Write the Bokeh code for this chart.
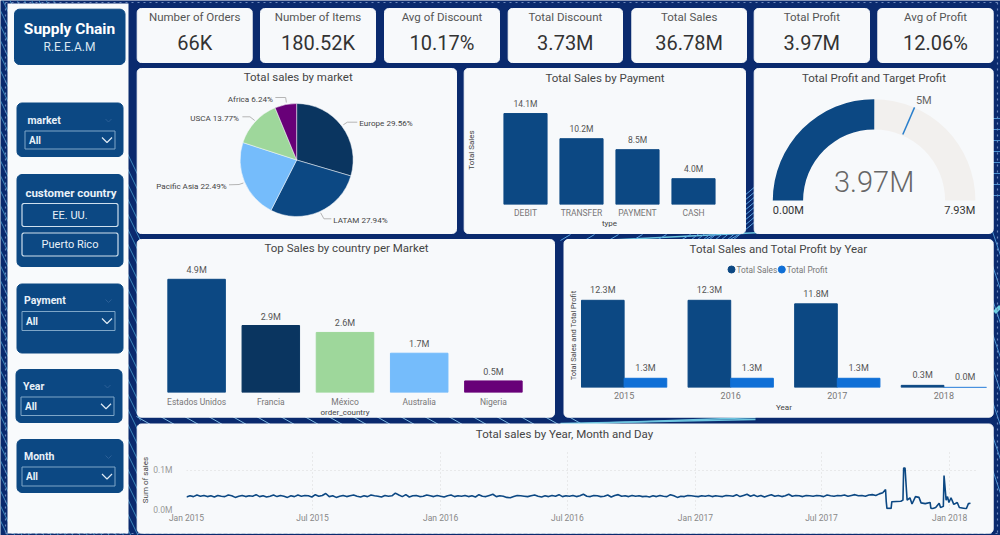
import math
import numpy as np
import pandas as pd
from bokeh.embed import file_html
from bokeh.resources import INLINE
from bokeh.layouts import column
from bokeh.plotting import figure
from bokeh.core.properties import value
from bokeh.models import (ColumnDataSource, Range1d, FactorRange, FixedTicker, DatetimeTickFormatter)
from bokeh.transform import dodge

# ---------- data ----------
kpi_titles = ["Number of Orders", "Number of Items", "Avg of Discount", "Total Discount", "Total Sales", "Total Profit", "Avg of Profit"]
kpi_values = ["66K", "180.52K", "10.17%", "3.73M", "36.78M", "3.97M", "12.06%"]

market_names = ["Europe", "LATAM", "Pacific Asia", "USCA", "Africa"]
market_share = [29.56, 27.94, 22.49, 13.77, 6.24]

pay_types = ["DEBIT", "TRANSFER", "PAYMENT", "CASH"]
pay_sales = [14.1, 10.2, 8.5, 4.0]

gauge_value = 3.97
gauge_target = 5.0
gauge_max = 7.93

countries = ["Estados Unidos", "Francia", "México", "Australia", "Nigeria"]
country_sales = [4.9, 2.9, 2.6, 1.7, 0.5]

years = ["2015", "2016", "2017", "2018"]
year_sales = [12.3, 12.3, 11.8, 0.3]
year_profit = [1.3, 1.3, 1.3, 0.02]

# daily sales (thousands), read every 5 days from Jan 2015 to Sep 2017
ts_body_k = [
    32, 35, 33, 37, 34, 36, 33, 35, 32, 36, 34, 33, 37, 35, 31, 34, 36, 33, 35, 34,
    38, 33, 35, 32, 34, 37, 33, 36, 34, 31, 35, 33, 37, 34, 36, 35, 32, 38, 34, 36,
    41, 33, 35, 31, 34, 36, 33, 35, 37, 34, 32, 35, 33, 37, 35, 34, 32, 36, 34, 35,
    42, 37, 33, 38, 32, 35, 36, 33, 34, 37, 35, 33, 36, 34, 32, 35, 37, 33, 35, 34,
    36, 33, 35, 32, 38, 34, 33, 36, 39, 33, 35, 34, 31, 30, 33, 36, 35, 34, 33, 35,
    37, 34, 32, 35, 33, 36, 34, 38, 33, 35, 34, 36, 33, 35, 39, 34, 33, 36, 35, 33,
    34, 37, 32, 36, 38, 34, 35, 33, 36, 34, 35, 33, 34, 32, 35, 33, 36, 34, 33, 38,
    35, 31, 34, 33, 36, 35, 34, 33, 35, 34, 36, 33, 35, 34, 33, 36, 35, 34, 38, 33,
    36, 39, 34, 37, 33, 36, 32, 35, 38, 34, 36, 33, 35, 39, 34, 36, 35, 33, 36, 35,
    34, 36, 35, 33, 37, 35, 34, 36, 35, 37, 34, 36, 38, 35, 36, 34, 37, 38, 36, 40, 43,
]
# the end of the series, read day by day from the right side of the line
ts_tail_dates = ["2017-10-01", "2017-10-02", "2017-10-03", "2017-10-09", "2017-10-10", "2017-10-23", "2017-10-26",
                 "2017-10-27", "2017-10-29", "2017-10-31", "2017-11-01", "2017-11-05", "2017-11-08", "2017-11-13",
                 "2017-11-18", "2017-11-21", "2017-11-27", "2017-12-04", "2017-12-05", "2017-12-07", "2017-12-12",
                 "2017-12-17", "2017-12-19", "2017-12-23", "2017-12-24", "2017-12-27", "2017-12-29", "2017-12-31",
                 "2018-01-03", "2018-01-07", "2018-01-12", "2018-01-15", "2018-01-25", "2018-01-28", "2018-01-31"]
ts_tail_k = [51, 20, 3, 3, 20, 21, 24, 106, 106, 50, 24, 30, 14, 33, 31, 17, 15, 18, 4, 2, 5, 16, 5, 8, 87, 24, 33, 18,
             30, 13, 18, 5, 2, 15, 16]
ts_tick_dates = ["2015-01-01", "2015-07-01", "2016-01-01", "2016-07-01", "2017-01-01", "2017-07-01", "2018-01-01"]

# ---------- colours ----------
NAVY = "#0a2a6e"
PANEL = "#f7f9fb"
BLUE = "#0c4883"
DARK = "#0a3560"
LIGHTBLUE = "#75bcfb"
GREEN = "#9ed79b"
PURPLE = "#680078"
PROFIT = "#0f6fd6"
FONT = "Roboto"
TITLE = "#454545"

# ---------- page ----------
PAGE_W, PAGE_H = 1000, 535
REF_W, REF_H = 1000, 535
SX, SY = PAGE_W / REF_W, PAGE_H / REF_H

bg = figure(width=PAGE_W, height=PAGE_H, x_range=Range1d(0, REF_W), y_range=Range1d(REF_H, 0),
            output_backend="svg", toolbar_location=None, x_axis_location=None, y_axis_location=None,
            min_border=0, frame_align=False)
bg.background_fill_color = NAVY
bg.border_fill_color = NAVY
bg.outline_line_color = None
bg.grid.visible = False


def rrect(x0, y0, x1, y1, r=5):
    xs, ys = [], []
    for cx, cy, a0 in [(x1 - r, y0 + r, -90), (x1 - r, y1 - r, 0), (x0 + r, y1 - r, 90), (x0 + r, y0 + r, 180)]:
        for a in np.radians(np.linspace(a0, a0 + 90, 6)):
            xs.append(cx + r * math.cos(a))
            ys.append(cy + r * math.sin(a))
    return xs, ys


def box(x0, y0, x1, y1, fill, r=5, line=None, lw=1):
    xs, ys = rrect(x0, y0, x1, y1, r)
    bg.patch(xs, ys, fill_color=fill, line_color=line if line else fill, line_width=lw)


def txt(x, y, s, size, color=TITLE, align="center", bold=False, angle=0):
    bg.text([x], [y - 0.7], text=[s], text_font=value(FONT), text_font_size=f"{size}px", text_color=color,
            text_align=align, text_baseline="middle", text_font_style="bold" if bold else "normal", angle=angle)


# decorative background lines
dx, dy = [], []
for y0 in range(-120, 520, 15):
    dx.append([-5, 140]); dy.append([y0, y0 + 300])
bg.multi_line(dx, dy, line_color="#4aa0d0", line_width=1, line_alpha=0.8)
dx, dy = [], []
for x0 in range(136, 570, 24):
    dx.append([x0, x0 + 14]); dy.append([416, 424])
bg.multi_line(dx, dy, line_color="#7fb8e0", line_width=1)
bg.multi_line([[560, 755], [560, 755], [600, 760]], [[424, 417], [423, 419], [240, 232]],
              line_color="#6fc6e0", line_width=1.5)
dx, dy = [], []
for k in range(8):
    dx.append([690 + k * 6, 756]); dy.append([240, 185 + k * 5])
    dx.append([560 + k * 24, 570 + k * 24]); dy.append([240, 234])
bg.multi_line(dx, dy, line_color="#5aa3e0", line_width=1)
dx, dy = [], []
for k in range(8):
    dx.append([990, 1000]); dy.append([118 + k * 11, 118 + k * 11])
    dx.append([990, 1000]); dy.append([225 + k * 34, 255 + k * 34])
bg.multi_line(dx, dy, line_color="#4a90d0", line_width=1)
bg.line([994, 1000], [312, 306], line_color="#6fd0e0", line_width=4)

# dotted outer frame
bg.multi_line([[5, 997], [5, 997], [5, 5], [997, 997]], [[2, 2], [533, 533], [2, 533], [2, 533]],
              line_color="#6d88bb", line_width=1.2, line_dash="dotted")

# sidebar
bg.quad(left=[7], right=[128], top=[3], bottom=[533], fill_color="#f8fafc", line_color=None)
box(14, 8.7, 124.5, 64, BLUE)
txt(69, 29, "Supply Chain", 15.5, "#ffffff", bold=True)
txt(69, 47, "R.E.E.A.M", 12, "#d8e6f2")

slicer_boxes = [(16.5, 102.5, 122.5, 156), (16.5, 174, 122.5, 266), (16.5, 283.5, 122.5, 352.5),
                (15.5, 369, 121.5, 422), (16.5, 439, 122.5, 492)]
for b in slicer_boxes:
    box(*b, BLUE)

DROP = "#7ea6c8"
slicer_labels = [("market", 27, 120.5), ("Payment", 23.5, 301), ("Year", 22.5, 386.5), ("Month", 23.5, 457)]
for s, x, y in slicer_labels:
    txt(x, y, s, 10.5, "#e9f1f8", "left", True)
    chev_x = 108 if s != "Year" else 107
    bg.line([chev_x - 3, chev_x, chev_x + 3], [y - 2, y + 1, y - 2], line_color="#2b5f97", line_width=1)
for x0, y0, x1, y1 in [(24.5, 130.5, 114.5, 148.5), (21.5, 311, 114.5, 330), (20.5, 396.5, 113.5, 415),
                       (21.5, 466.5, 114.5, 485.5)]:
    bg.quad(left=[x0], right=[x1], top=[y0], bottom=[y1], fill_color=None, line_color=DROP, line_width=1)
    txt(x0 + 4, (y0 + y1) / 2 + 1, "All", 10, "#e9f1f8", "left", True)
    cy = (y0 + y1) / 2
    bg.line([x1 - 13, x1 - 8, x1 - 3], [cy - 2.5, cy + 2.5, cy - 2.5], line_color="#dfeaf4", line_width=1.2)
txt(70.5, 193, "customer country", 11.5, "#e9f1f8", bold=True)
for s, y0, y1 in [("EE. UU.", 203, 226), ("Puerto Rico", 232.5, 255.5)]:
    box(21.5, y0, 117.5, y1, BLUE, r=2, line="#cfe0ee", lw=1.2)
    txt(69.5, (y0 + y1) / 2 + 1, s, 11, "#e9f1f8")

# KPI cards
kpi_x = [(136.7, 251.7), (260, 375), (384, 499), (507.7, 622), (631.3, 746), (753.7, 869), (877.3, 992.7)]
for (x0, x1), t, v in zip(kpi_x, kpi_titles, kpi_values):
    box(x0, 8, x1, 62, PANEL, r=4)
    txt((x0 + x1) / 2, 17.5, t, 11.5, "#555555")
    txt((x0 + x1) / 2, 43, v, 20, "#333333")

# chart panels and their titles
panels = [(136.7, 68, 456, 233, "Total sales by market", 297.7, 77),
          (463.7, 68, 745, 233, "Total Sales by Payment", 604.5, 78),
          (753.7, 68, 992.7, 233, "Total Profit and Target Profit", 873.5, 78),
          (136.7, 239, 554, 416.7, "Top Sales by country per Market", 346, 248.5),
          (563.5, 239, 992.7, 416.7, "Total Sales and Total Profit by Year", 778, 249),
          (136.7, 423.5, 992.7, 532.7, "Total sales by Year, Month and Day", 564, 434)]
for x0, y0, x1, y1, t, tx, ty in panels:
    box(x0, y0, x1, y1, PANEL, r=4)
    txt(tx, ty, t, 11.5, TITLE)

# legend of the yearly chart
for s, col, cx in [("Total Sales", BLUE, 731), ("Total Profit", PROFIT, 781.3)]:
    bg.scatter([cx], [269], marker="circle", size=7, fill_color=col, line_color=col)
    txt(cx + 5, 269.7, s, 8.3, "#777777", "left")

figs = []


def frame(fx0, fy0, fx1, fy1, l, t, r, b, x_range, y_range, **kw):
    """figure whose plot frame sits on the given reference-pixel box, with margins around it"""
    left, top = round(fx0 * SX) - round(l * SX), round(fy0 * SY) - round(t * SY)
    w = round(fx1 * SX) - round(fx0 * SX) + round(l * SX) + round(r * SX)
    h = round(fy1 * SY) - round(fy0 * SY) + round(t * SY) + round(b * SY)
    p = figure(width=w, height=h, x_range=x_range, y_range=y_range, output_backend="svg", toolbar_location=None,
               min_border_left=round(l * SX), min_border_top=round(t * SY), min_border_right=round(r * SX),
               min_border_bottom=round(b * SY), frame_align=False, **kw)
    p.background_fill_alpha = 0
    p.border_fill_alpha = 0
    p.outline_line_color = None
    p.styles = {"position": "absolute", "left": f"{left}px", "top": f"{top}px"}
    figs.append(p)
    return p


def style_axis(ax, size="8.5px", color="#777777"):
    ax.axis_line_color = None
    ax.major_tick_line_color = None
    ax.minor_tick_line_color = None
    ax.major_tick_out = 0
    ax.major_tick_in = 0
    ax.minor_tick_out = 0
    ax.minor_tick_in = 0
    ax.major_label_text_font = FONT
    ax.major_label_text_font_size = size
    ax.major_label_text_color = color
    ax.axis_label_text_font = FONT
    ax.axis_label_text_font_size = "8px"
    ax.axis_label_text_font_style = "normal"
    ax.axis_label_text_color = "#444444"


# ---------- pie ----------
pcx, pcy = 296, 159.5
pie = frame(136.7, 68, 456, 233, 0, 0, 0, 0, Range1d(136.7 - pcx, 456 - pcx), Range1d(pcy - 233, pcy - 68),
            x_axis_location=None, y_axis_location=None)
pie.grid.visible = False
cum = np.cumsum([0] + market_share) / sum(market_share)
pie.wedge(x=0, y=0, radius=56.5, radius_units="screen", direction="clock",
          start_angle=[math.pi / 2 - 2 * math.pi * c for c in cum[:-1]],
          end_angle=[math.pi / 2 - 2 * math.pi * c for c in cum[1:]],
          fill_color=[DARK, BLUE, LIGHTBLUE, GREEN, PURPLE], line_color="#f7f9fb", line_width=0.5)
pie_layout = {
    "Europe": (358.7, 122.5, "left", [342.7, 346.7, 356.7], [124.3, 121.7, 121.7]),
    "LATAM": (332.7, 219.3, "left", [320, 323.3, 330.7], [212.3, 218.3, 218.3]),
    "Pacific Asia": (226, 185, "right", [228.3, 238.3, 242.7], [184.3, 184, 182.5]),
    "USCA": (238.3, 117, "right", [241.7, 249.3, 254], [116.3, 116.3, 120]),
    "Africa": (272.3, 98, "right", [274.7, 285, 285.7], [97, 97, 102]),
}
for name, share in zip(market_names, market_share):
    tx, ty, al, lx, ly = pie_layout[name]
    pie.line([v - pcx for v in lx], [pcy - v for v in ly], line_color="#b5b5b5", line_width=1)
    pie.text([tx - pcx], [pcy - ty], text=[f"{name} {share:.2f}%"], text_font=value(FONT), text_font_size="8.1px",
             text_color="#444444", text_align=al, text_baseline="middle")

# ---------- payment bars ----------
pay_src = ColumnDataSource(dict(cat=pay_types, val=pay_sales, lbl=[f"{v:.1f}M" for v in pay_sales]))
pp = frame(496.8, 95, 720.8, 203.7, 40, 0, 10, 32, FactorRange(factors=pay_types, range_padding=0), Range1d(0, 16.9))
pp.grid.visible = False
pp.vbar(x="cat", top="val", width=0.77, source=pay_src, fill_color=BLUE, line_color=BLUE)
pp.text(x="cat", y="val", text="lbl", source=pay_src, y_offset=-5, text_font=value(FONT), text_font_size="8.5px",
        text_color="#555555", text_align="center", text_baseline="bottom")
style_axis(pp.xaxis[0])
style_axis(pp.yaxis[0])
pp.xaxis.major_label_standoff = 3
pp.xaxis.axis_label = "type"
pp.xaxis.axis_label_standoff = -2
pp.yaxis.axis_label = "Total Sales"
pp.yaxis.axis_label_standoff = 22
pp.yaxis.major_label_text_font_size = "0px"
pp.yaxis.ticker = FixedTicker(ticks=[])

# ---------- gauge ----------
gcx, gcy = 873.3, 200
gg = frame(753.7, 68, 992.7, 233, 0, 0, 0, 0, Range1d(753.7 - gcx, 992.7 - gcx), Range1d(gcy - 233, gcy - 68),
           x_axis_location=None, y_axis_location=None)
gg.grid.visible = False
ang = lambda v: math.pi * (1 - v / gauge_max)
gg.annular_wedge(x=0, y=0, inner_radius=71, outer_radius=101.3, inner_radius_units="screen",
                 outer_radius_units="screen", start_angle=0, end_angle=math.pi, fill_color="#f2f0ee", line_color=None)
gg.annular_wedge(x=0, y=0, inner_radius=71, outer_radius=101.3, inner_radius_units="screen",
                 outer_radius_units="screen", start_angle=ang(gauge_value), end_angle=math.pi, fill_color=BLUE,
                 line_color=None)
ta = ang(gauge_target)
gg.segment(x0=72 * math.cos(ta), y0=72 * math.sin(ta), x1=101.5 * math.cos(ta), y1=101.5 * math.sin(ta),
           line_color="#2a7fcc", line_width=1.5)
for x, y, s, size, col, al, fnt in [(923 - gcx, gcy - 100, f"{gauge_target:.0f}M", 11, "#666666", "center", FONT),
                                    (0, gcy - 181, f"{gauge_value:.2f}M", 29, "#666666", "center", "Roboto Light"),
                                    (772 - gcx, gcy - 210, "0.00M", 11, "#333333", "left", FONT),
                                    (974.5 - gcx, gcy - 210, f"{gauge_max:.2f}M", 11, "#333333", "right", FONT)]:
    gg.text([x], [y], text=[s], text_font=value(fnt), text_font_size=f"{size}px", text_color=col, text_align=al,
            text_baseline="middle")

# ---------- countries ----------
c_src = ColumnDataSource(dict(cat=countries, val=country_sales, lbl=[f"{v:.1f}M" for v in country_sales],
                              col=[BLUE, DARK, GREEN, LIGHTBLUE, PURPLE]))
cp = frame(159, 250, 530, 392, 10, 0, 10, 32, FactorRange(factors=countries, range_padding=0), Range1d(0, 6.147))
cp.grid.visible = False
cp.vbar(x="cat", top="val", width=0.775, source=c_src, fill_color="col", line_color="col")
cp.text(x="cat", y="val", text="lbl", source=c_src, y_offset=-4, text_font=value(FONT), text_font_size="9px",
        text_color="#555555", text_align="center", text_baseline="bottom")
style_axis(cp.xaxis[0])
cp.yaxis.visible = False
cp.xaxis.major_label_standoff = 4
cp.xaxis.axis_label = "order_country"
cp.xaxis.axis_label_standoff = -2

# ---------- years ----------
y_src = ColumnDataSource(dict(year=years, sales=year_sales, profit=year_profit,
                              sl=[f"{v:.1f}M" for v in year_sales], pl=[f"{v:.1f}M" for v in year_profit]))
yp = frame(578, 283.3, 989.4, 386.7, 14, 30, 3, 30, FactorRange(factors=years, range_padding=-0.036), Range1d(0, 14.67))
yp.grid.visible = False
for field, lab, off, col in [("sales", "sl", -0.2, BLUE), ("profit", "pl", 0.2, PROFIT)]:
    x = dodge("year", off, range=yp.x_range)
    yp.vbar(x=x, top=field, width=0.4, source=y_src, fill_color=col, line_color=col)
    yp.text(x=x, y=field, text=lab, source=y_src, y_offset=-5, text_font=value(FONT), text_font_size="9px",
            text_color="#555555", text_align="center", text_baseline="bottom")
style_axis(yp.xaxis[0], "9px")
style_axis(yp.yaxis[0])
yp.xaxis.major_label_standoff = 4
yp.xaxis.axis_label = "Year"
yp.xaxis.axis_label_standoff = 1
yp.yaxis.axis_label = "Total Sales and Total Profit"
yp.yaxis.axis_label_text_font_size = "7.5px"
yp.yaxis.axis_label_standoff = 1
yp.yaxis.major_label_text_font_size = "0px"
yp.yaxis.ticker = FixedTicker(ticks=[])

# ---------- time series ----------
ts_dates = list(pd.date_range("2015-01-01", periods=len(ts_body_k), freq="5D")) + [pd.Timestamp(d) for d in ts_tail_dates]
ts_vals = [v / 1000 for v in ts_body_k + ts_tail_k]
ts = frame(186, 450, 976.7, 509.3, 60, 0, 10, 22,
           Range1d(pd.Timestamp("2015-01-01"), pd.Timestamp("2015-01-01") + pd.Timedelta(days=(976.7 - 186) / 0.696)),
           Range1d(0, 0.151), x_axis_type="datetime")
ts.line(ts_dates, ts_vals, line_color=BLUE, line_width=1.6)
style_axis(ts.xaxis[0], "8.5px", "#888888")
style_axis(ts.yaxis[0], "8.5px", "#999999")
ts.xaxis.ticker = FixedTicker(ticks=[pd.Timestamp(d).timestamp() * 1000 for d in ts_tick_dates])
ts.xaxis.formatter = DatetimeTickFormatter(years="%b %Y", months="%b %Y", days="%b %Y")
ts.xaxis.major_label_standoff = 3
ts.yaxis.ticker = FixedTicker(ticks=[0, 0.1])
ts.yaxis.major_label_overrides = {0: "0.0M", 0.1: "0.1M"}
ts.yaxis.major_label_standoff = 14
ts.yaxis.axis_label = "Sum of sales"
ts.yaxis.axis_label_standoff = 0
ts.grid.grid_line_color = "#d9d9d9"
ts.grid.grid_line_dash = [1, 3]

root = column(bg, *figs, spacing=0)
open("out.html", "w").write(file_html(root, INLINE))
